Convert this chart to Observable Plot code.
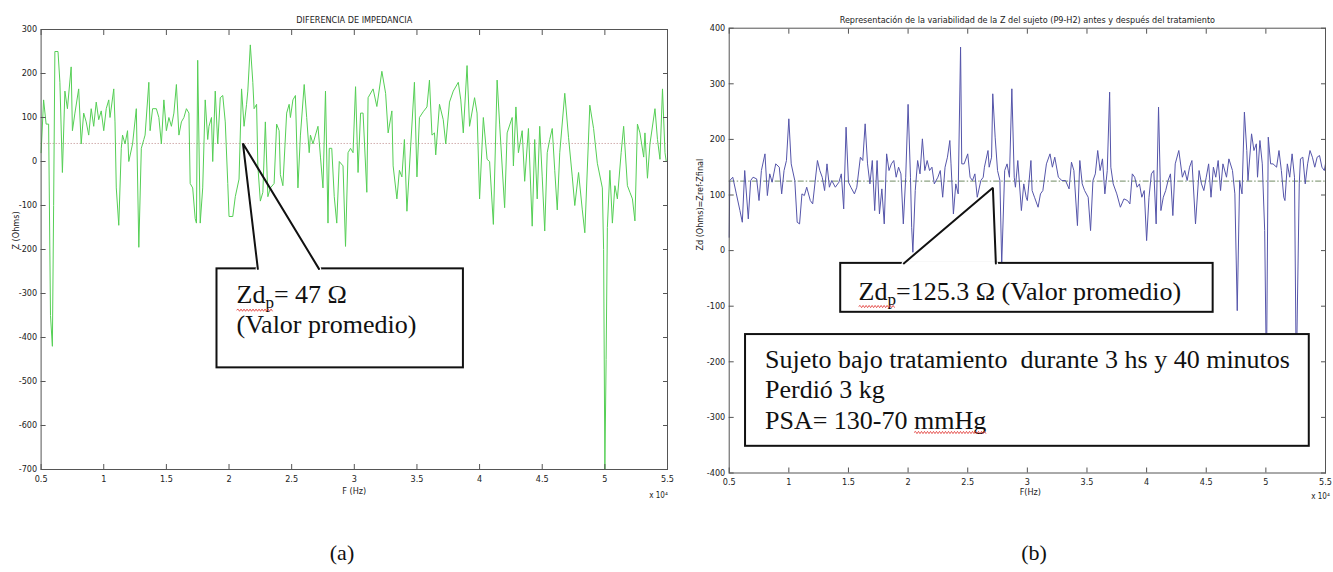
<!DOCTYPE html>
<html><head><meta charset="utf-8">
<script src="https://cdn.jsdelivr.net/npm/d3@7"></script>
<script src="https://cdn.jsdelivr.net/npm/@observablehq/plot@0.6"></script>
<style>
body{margin:0;background:#fff;}
#wrap{position:relative;width:1333px;height:572px;overflow:hidden;background:#fff;}
#pa{position:absolute;left:0;top:0;}
#pb{position:absolute;left:680px;top:0;}
.cap{position:absolute;font-family:"Liberation Serif","Times New Roman",serif;font-size:22px;color:#111;transform:translate(-50%,-50%);}
</style></head><body>
<div id="wrap"><div id="pa"></div><div id="pb"></div>
<div class="cap" style="left:342px;top:553px">(a)</div>
<div class="cap" style="left:1034px;top:553px">(b)</div>
</div>
<script>
// ---------- data (a) DIFERENCIA DE IMPEDANCIA ----------
const fA = [0.50,0.52,0.54,0.56,0.575,0.59,0.60,0.61,0.635,0.65,0.67,0.69,0.71,0.74,0.75,0.77,0.80,0.82,0.84,0.86,0.88,0.90,0.92,0.94,0.96,0.98,
1.00,1.02,1.04,1.05,1.08,1.09,1.10,1.12,1.14,1.15,1.17,1.19,1.20,1.23,1.26,1.28,1.30,1.32,1.33,1.36,1.37,1.39,1.42,1.44,1.46,1.48,
1.50,1.52,1.54,1.56,1.58,1.60,1.62,1.64,1.66,1.68,1.69,1.71,1.73,1.74,1.75,1.77,1.79,1.81,1.83,1.84,1.86,1.87,1.89,1.91,1.93,1.95,1.97,1.99,
2.00,2.03,2.05,2.08,2.10,2.12,2.14,2.15,2.17,2.19,2.20,2.22,2.23,2.25,2.27,2.29,2.31,2.33,2.36,2.38,2.40,2.41,2.43,2.46,2.48,2.49,
2.51,2.53,2.55,2.57,2.60,2.62,2.64,2.65,2.67,2.69,2.71,2.73,2.75,2.77,2.79,2.80,2.82,2.84,2.86,2.88,2.91,2.93,2.95,2.97,2.99,
3.01,3.03,3.05,3.07,3.10,3.11,3.15,3.18,3.22,3.25,3.27,3.30,3.31,3.34,3.36,3.38,3.40,3.42,3.45,3.48,
3.50,3.52,3.55,3.58,3.60,3.62,3.64,3.65,3.68,3.71,3.73,3.76,3.79,3.83,3.85,3.87,3.90,3.92,3.96,3.98,
4.00,4.03,4.06,4.08,4.11,4.14,4.16,4.20,4.22,4.26,4.27,4.29,4.31,4.34,4.36,4.39,4.42,4.44,4.46,4.48,
4.50,4.52,4.54,4.56,4.58,4.60,4.62,4.64,4.68,4.71,4.74,4.76,4.79,4.82,4.84,4.88,4.91,4.94,4.98,4.99,
5.00,5.01,5.02,5.04,5.06,5.08,5.10,5.13,5.15,5.18,5.20,5.22,5.24,5.26,5.28,5.31,5.32,5.34,5.36,5.40,5.42,5.44,5.46,5.48,5.49,5.50];
const zA = [20,140,85,85,-350,-420,-100,250,250,180,-25,160,120,215,70,110,165,40,110,90,60,120,80,135,95,115,
70,120,140,100,165,90,-60,-145,30,60,40,70,0,40,120,-195,30,50,60,180,70,120,120,100,40,140,
70,100,80,110,175,60,90,100,120,110,-50,-60,-130,-140,230,-140,-60,140,50,80,100,0,160,40,145,150,90,-50,
-125,-125,-80,-40,165,80,130,160,265,180,120,130,-10,-90,-70,90,-80,-60,-50,85,70,-30,-55,110,130,100,
140,150,-60,60,175,100,20,60,40,60,80,10,-60,160,-140,30,30,-80,-140,0,-10,-193,20,30,20,
170,-25,110,110,-70,145,165,125,205,155,65,115,-10,-85,-20,-35,50,-113,35,180,
-35,100,113,124,185,60,65,15,130,95,40,135,160,180,140,65,218,80,145,110,
-85,100,5,0,-143,185,85,-105,65,100,-10,124,20,70,-45,75,-147,50,-85,80,
-35,-158,20,50,75,-20,-110,20,155,55,-35,-100,-25,-110,-162,128,75,-4,-60,-200,
-700,-450,-150,-20,-140,-55,-85,20,80,-55,-70,-85,-135,85,65,10,65,-38,40,120,50,5,165,20,0,0];
const meanA = 41;

// ---------- data (b) variabilidad de la Z ----------
const fB = [0.50,0.505,0.53,0.56,0.59,0.61,0.63,0.66,0.68,0.70,0.73,0.75,0.77,0.80,0.82,0.84,0.86,0.89,0.92,0.94,0.96,0.98,
1.00,1.02,1.05,1.07,1.09,1.11,1.13,1.15,1.18,1.20,1.24,1.26,1.28,1.30,1.32,1.34,1.36,1.39,1.42,1.44,1.46,1.48,
1.50,1.52,1.55,1.57,1.60,1.62,1.64,1.66,1.68,1.70,1.72,1.74,1.76,1.78,1.80,1.82,1.84,1.86,1.88,1.90,1.92,1.94,1.96,1.98,
2.00,2.02,2.03,2.04,2.06,2.08,2.10,2.12,2.14,2.16,2.18,2.20,2.22,2.25,2.27,2.29,2.31,2.33,2.35,2.36,2.38,2.40,2.42,2.44,2.45,2.47,
2.50,2.52,2.54,2.56,2.58,2.61,2.63,2.64,2.67,2.68,2.70,2.71,2.73,2.75,2.77,2.785,2.81,2.83,2.85,2.87,2.89,2.90,2.92,2.95,2.97,2.99,
3.00,3.03,3.04,3.06,3.09,3.11,3.13,3.16,3.19,3.21,3.23,3.26,3.29,3.32,3.35,3.37,3.39,3.42,3.44,3.46,3.48,
3.51,3.53,3.55,3.57,3.59,3.61,3.63,3.65,3.67,3.69,3.70,3.72,3.75,3.78,3.81,3.84,3.86,3.88,3.90,3.92,3.94,3.96,3.98,
4.00,4.02,4.04,4.06,4.08,4.10,4.12,4.14,4.16,4.18,4.20,4.22,4.24,4.27,4.30,4.32,4.34,4.36,4.38,4.41,4.44,4.46,4.48,
4.50,4.52,4.54,4.56,4.58,4.60,4.62,4.64,4.67,4.69,4.72,4.74,4.76,4.78,4.80,4.82,4.84,4.85,4.88,4.90,4.92,4.93,4.95,4.97,4.99,
5.005,5.02,5.04,5.06,5.09,5.11,5.13,5.15,5.16,5.18,5.20,5.22,5.24,5.255,5.28,5.29,5.31,5.33,5.35,5.37,5.39,5.41,5.43,5.45,5.47,5.49,5.50];
const zB = [24,126,132,102,72,51,144,57,126,132,129,90,144,174,99,138,123,156,150,102,144,162,
237,156,126,51,48,102,99,114,90,84,162,144,132,108,156,114,126,114,123,138,75,222,
123,114,102,114,168,162,228,156,120,162,72,162,66,111,48,174,144,156,162,132,150,138,48,132,
263,132,42,-3,108,162,138,201,144,162,144,150,120,132,144,96,150,168,198,156,66,120,102,366,156,156,
174,132,126,138,96,126,132,150,180,150,168,282,204,144,126,-25,144,156,132,291,132,114,162,72,120,96,
90,162,108,96,78,102,108,156,174,150,168,132,126,126,111,159,144,45,162,120,108,
96,36,126,138,180,144,165,102,144,285,150,120,102,78,93,90,84,138,132,114,120,96,108,
18,96,138,144,48,258,72,96,108,126,138,63,156,180,132,144,126,150,162,48,144,120,108,
132,156,96,150,132,162,108,156,132,165,144,102,-108,126,102,249,180,126,210,180,192,132,198,156,36,
-230,204,156,156,150,180,144,96,90,156,132,174,132,-230,120,165,168,120,156,180,168,150,168,171,150,144,156];
const meanB = 125;

// ---------- ticks & labels ----------
const xTicks = [0.5,1,1.5,2,2.5,3,3.5,4,4.5,5,5.5];
const yTicksA = [-700,-600,-500,-400,-300,-200,-100,0,100,200,300];
const yTicksB = [-400,-300,-200,-100,0,100,200,300,400];
const titleA = "DIFERENCIA DE IMPEDANCIA";
const titleB = "Representación de la variabilidad de la Z del sujeto (P9-H2) antes y después del tratamiento";
const yLabelA = "Z (Ohms)";
const yLabelB = "Zd (Ohms)=Zref-Zfinal";
const xLabelA = "F (Hz)";
const xLabelB = "F(Hz)";
const expLabel = "x 10⁴";

// annotation callouts (data units)
const boxA = [{x1: 1.904, x2: 3.871, y1: -244, y2: -469}];
const pointerA = [{f: 2.23, z: -244}, {f: 2.111, z: 41}, {f: 2.718, z: -244}];
const textA = [{f: 2.06, z: -322, t: "Zdp= 47 Ω"}, {f: 2.06, z: -390, t: "(Valor promedio)"}];
const boxB1 = [{x1: 1.435, x2: 4.558, y1: -23, y2: -111}];
const pointerB = [{f: 1.964, z: -23}, {f: 2.711, z: 113}, {f: 2.736, z: -23}];
const boxB2 = [{x1: 0.637, x2: 5.364, y1: -151, y2: -352}];
const textB = [
  {f: 1.585, z: -88, t: "Zdp=125.3 Ω (Valor promedio)"},
  {f: 0.80, z: -212, t: "Sujeto bajo tratamiento  durante 3 hs y 40 minutos"},
  {f: 0.80, z: -266, t: "Perdió 3 kg"},
  {f: 0.80, z: -320, t: "PSA= 130-70 mmHg"}
];

const narrow = '"Liberation Sans Narrow","DejaVu Sans Condensed","Liberation Sans",Arial,sans-serif';
const serif = '"Liberation Serif","Times New Roman",serif';
const fmt = d => String(d);
const blank = () => "";

function axes(yTicks) {
  return [
    Plot.frame({stroke: "#555", strokeWidth: 1}),
    Plot.axisX(xTicks, {anchor: "bottom", tickSize: -5, tickPadding: 11, tickFormat: fmt, label: null, stroke: "#555", fill: "#222"}),
    Plot.axisX(xTicks, {anchor: "top", tickSize: -5, tickFormat: blank, label: null, stroke: "#555"}),
    Plot.axisY(yTicks, {anchor: "left", tickSize: -5, tickPadding: 9, tickFormat: fmt, label: null, stroke: "#555", fill: "#222"}),
    Plot.axisY(yTicks, {anchor: "right", tickSize: -5, tickFormat: blank, label: null, stroke: "#555"})
  ];
}

function callout(box, pointer) {
  const gap = [pointer[0], pointer[2]];
  return [
    Plot.rect(box, {x1: "x1", x2: "x2", y1: "y1", y2: "y2", fill: "white", stroke: "#111", strokeWidth: 2}),
    Plot.line(gap, {x: "f", y: "z", stroke: "white", strokeWidth: 4.5}),
    Plot.line(pointer, {x: "f", y: "z", stroke: "#111", strokeWidth: 2, strokeLinejoin: "miter"})
  ];
}

const dataA = fA.map((f, i) => ({f, z: zA[i]}));
const dataB = fB.map((f, i) => ({f, z: zB[i]}));

const common = {fontFamily: narrow, fontSize: "9px", color: "#222", background: "transparent", overflow: "visible"};

const plotA = Plot.plot({
  width: 680, height: 510,
  marginLeft: 40.6, marginRight: 13, marginTop: 29, marginBottom: 41,
  x: {domain: [0.5, 5.5]}, y: {domain: [-700, 300]},
  style: common,
  marks: [
    Plot.ruleY([meanA], {stroke: "#c79c9c", strokeDasharray: "1.2,1.8", strokeWidth: 1}),
    Plot.line(dataA, {x: "f", y: "z", stroke: "#55cf55", strokeWidth: 1}),
    ...axes(yTicksA),
    ...callout(boxA, pointerA),
    Plot.text(textA, {x: "f", y: "z", text: "t", textAnchor: "start", lineAnchor: "bottom", fontFamily: serif, fontSize: 26, fill: "#111"}),
    Plot.text([titleA], {text: d => d, frameAnchor: "top", dy: -13, fontSize: 9, fill: "#222"}),
    Plot.text([yLabelA], {text: d => d, frameAnchor: "left", rotate: -90, dx: -25, fontSize: 9, fill: "#222"}),
    Plot.text([xLabelA], {text: d => d, frameAnchor: "bottom", dy: 24, fontSize: 9, fill: "#222"}),
    Plot.text([expLabel], {text: d => d, frameAnchor: "bottom-right", textAnchor: "middle", dx: -9, dy: 28, fontSize: 8, fill: "#222"})
  ]
});

const plotB = Plot.plot({
  width: 653, height: 510,
  marginLeft: 48.7, marginRight: 8, marginTop: 27.7, marginBottom: 37.5,
  x: {domain: [0.5, 5.5]}, y: {domain: [-400, 400]},
  style: common,
  marks: [
    Plot.ruleY([meanB], {stroke: "#6f8a62", strokeDasharray: "6,2,1.5,2", strokeWidth: 1}),
    Plot.line(dataB, {x: "f", y: "z", stroke: "#5555aa", strokeWidth: 1}),
    ...axes(yTicksB),
    ...callout(boxB1, pointerB),
    Plot.rect(boxB2, {x1: "x1", x2: "x2", y1: "y1", y2: "y2", fill: "white", stroke: "#111", strokeWidth: 2}),
    Plot.text(textB, {x: "f", y: "z", text: "t", textAnchor: "start", lineAnchor: "bottom", fontFamily: serif, fontSize: 26, fill: "#111"}),
    Plot.text([titleB], {text: d => d, frameAnchor: "top", dy: -12, fontSize: 9, fill: "#222"}),
    Plot.text([yLabelB], {text: d => d, frameAnchor: "left", rotate: -90, dx: -29, fontSize: 9, fill: "#222"}),
    Plot.text([xLabelB], {text: d => d, frameAnchor: "bottom", dy: 22, dx: 3, fontSize: 9, fill: "#222"}),
    Plot.text([expLabel], {text: d => d, frameAnchor: "bottom-right", textAnchor: "middle", dx: -5, dy: 26, fontSize: 8, fill: "#222"})
  ]
});

// subscript "p" in Zdp and spell-check style marks
const wavy = [];
function subscripts(svg) {
  d3.select(svg).selectAll("text").each(function () {
    const t = this.textContent;
    if (t.startsWith("Zdp")) {
      const sel = d3.select(this);
      sel.text(null);
      sel.append("tspan").text("Zd");
      sel.append("tspan").attr("font-size", "17px").attr("dy", "5").text("p");
      sel.append("tspan").attr("dy", "-5").text(t.slice(3));
      wavy.push({el: this, from: 0, to: 2, off: 7});
    } else if (t.includes("mmHg")) {
      const i = t.indexOf("mmHg");
      wavy.push({el: this, from: i, to: i + 3, off: 4});
    }
  });
}
subscripts(plotA);
subscripts(plotB);

document.getElementById("pa").appendChild(plotA);
document.getElementById("pb").appendChild(plotB);

// red wavy underline (spell-check squiggle) under the marked words
for (const w of wavy) {
  const a = w.el.getStartPositionOfChar(w.from);
  const b = w.el.getEndPositionOfChar(w.to);
  const y0 = a.y + w.off;
  let d = `M${a.x},${y0}`;
  let up = true;
  for (let x = a.x + 1.5; x <= b.x; x += 1.5) { d += `L${x},${y0 + (up ? -1.1 : 1.1)}`; up = !up; }
  d3.select(w.el.parentNode).append("path")
    .attr("transform", w.el.getAttribute("transform"))
    .attr("d", d).attr("fill", "none").attr("stroke", "#e0302c").attr("stroke-width", 0.8);
}
</script>
</body></html>
